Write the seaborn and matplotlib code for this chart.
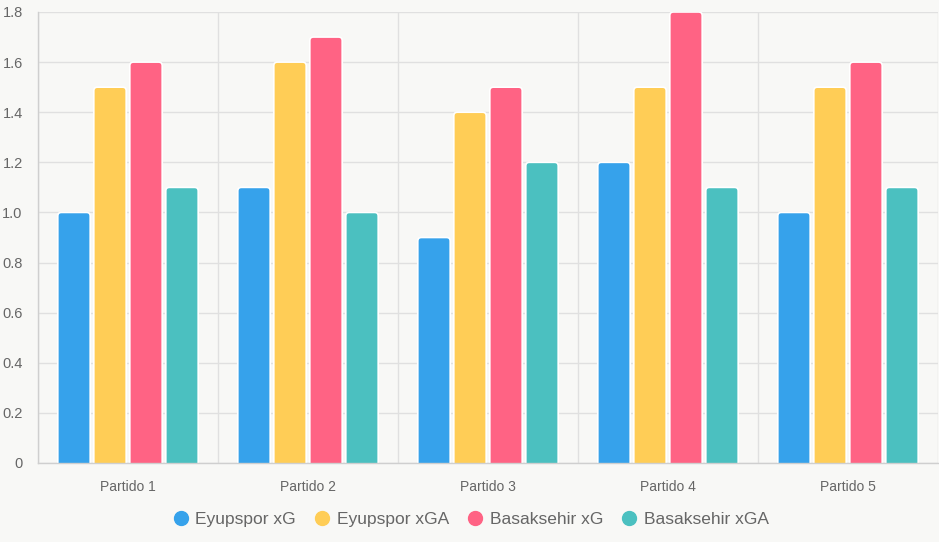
import numpy as np
import pandas as pd
import matplotlib
matplotlib.use("Agg")
import matplotlib.pyplot as plt
from matplotlib.patches import FancyBboxPatch
from matplotlib.lines import Line2D
import seaborn as sns

partidos = ["Partido 1", "Partido 2", "Partido 3", "Partido 4", "Partido 5"]
series = ["Eyupspor xG", "Eyupspor xGA", "Basaksehir xG", "Basaksehir xGA"]
eyup_xg = [1.0, 1.1, 0.9, 1.2, 1.0]
eyup_xga = [1.5, 1.6, 1.4, 1.5, 1.5]
basak_xg = [1.6, 1.7, 1.5, 1.8, 1.6]
basak_xga = [1.1, 1.0, 1.2, 1.1, 1.1]
colors = ["#36A2EB", "#FFCD56", "#FF6384", "#4BC0C0"]

df = pd.DataFrame({
    "partido": partidos * 4,
    "serie": [s for s in series for _ in partidos],
    "valor": eyup_xg + eyup_xga + basak_xg + basak_xga,
})

sns.set_style("white")
plt.rcParams["font.family"] = ["Liberation Sans", "DejaVu Sans"]
bg = "#F8F8F6"
grid_c = "#E0E0E0"
text_c = "#666666"

fig = plt.figure(figsize=(9.39, 5.42), dpi=100, facecolor=bg)
ax = fig.add_axes([38 / 939, 1 - 463 / 542, 900 / 939, (463 - 12) / 542])
ax.set_facecolor(bg)

sns.barplot(data=df, x="partido", y="valor", hue="serie", palette=colors,
            saturation=1, width=0.8, gap=0.1, ax=ax, legend=False, errorbar=None)

# swap plain rectangles for rounded-top bars
for p in list(ax.patches):
    x, y = p.get_x(), p.get_y()
    w, h = p.get_width(), p.get_height()
    fc = p.get_facecolor()
    p.remove()
    r = 0.02
    fb = FancyBboxPatch((x, y - 0.05), w, h + 0.05,
                        boxstyle="round,pad=0,rounding_size=%f" % r,
                        mutation_aspect=(1.8 / 451) / (5 / 900),
                        facecolor=fc, edgecolor="white", linewidth=1.2, zorder=2)
    ax.add_patch(fb)

ax.set_xlim(-0.5, 4.5)
ax.set_ylim(0, 1.8)
yt = np.round(np.arange(0, 1.81, 0.2), 1)
ax.set_yticks(yt)
ax.set_yticklabels(["0"] + ["%.1f" % v for v in yt[1:]])
ax.set_xticks(range(5))
ax.set_xticklabels(partidos)
ax.set_xticks(np.arange(-0.5, 4.6, 1), minor=True)
ax.set_xlabel("")
ax.set_ylabel("")

ax.grid(axis="y", color=grid_c, linewidth=1, zorder=0)
ax.grid(axis="x", which="minor", color=grid_c, linewidth=1, zorder=0)
ax.set_axisbelow(True)
ax.tick_params(axis="x", which="major", length=0, pad=12, labelsize=10, labelcolor=text_c)
ax.tick_params(axis="x", which="minor", length=6, color=grid_c, width=1)
ax.tick_params(axis="y", length=8, color=grid_c, width=1, pad=3, labelsize=10.5, labelcolor=text_c)

for s in ["top", "right"]:
    ax.spines[s].set_visible(False)
for s in ["left", "bottom"]:
    ax.spines[s].set_color("#CFCFCF")
    ax.spines[s].set_linewidth(1)

handles = [Line2D([], [], marker="o", linestyle="", markersize=10,
                  markerfacecolor=c, markeredgecolor=c) for c in colors]
fig.legend(handles, series, loc="center", bbox_to_anchor=(0.5, 1 - 519 / 542),
           ncol=4, frameon=False, handletextpad=0.25, columnspacing=0.9,
           fontsize=12.5, labelcolor=text_c, handlelength=1.2)

fig.savefig("out.png", dpi=100, facecolor=bg)
